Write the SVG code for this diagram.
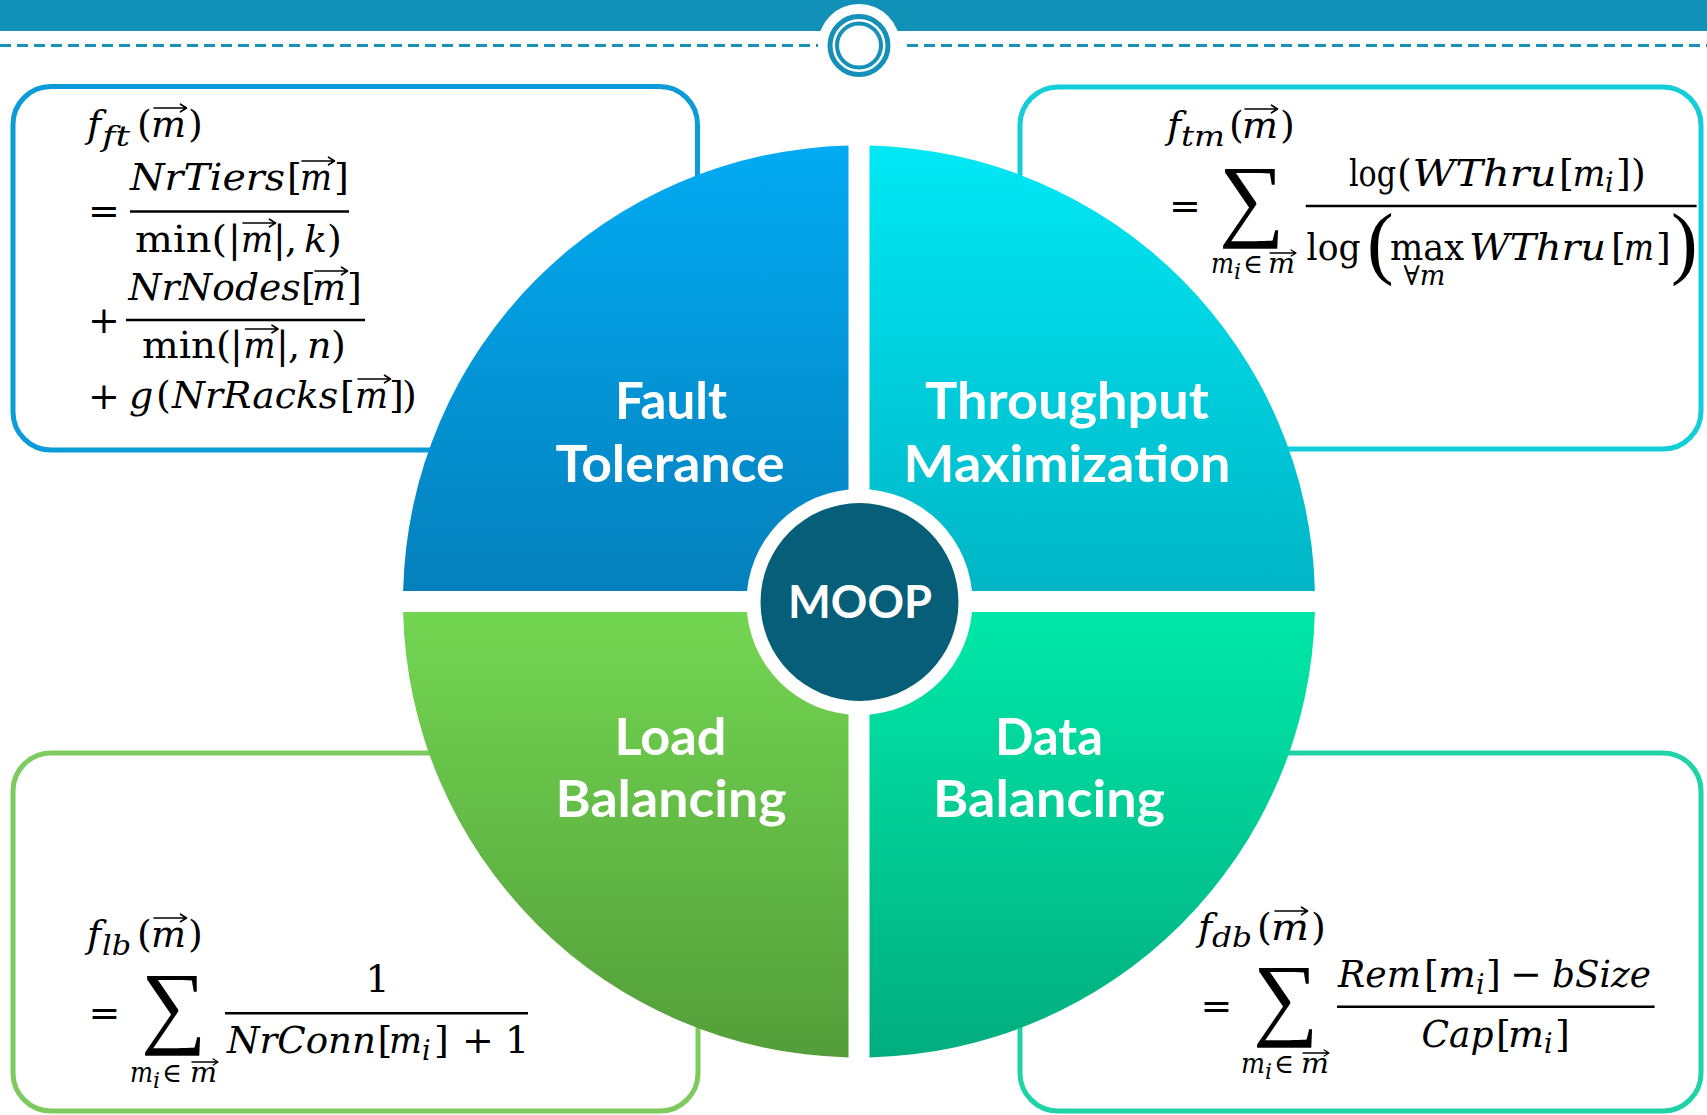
<svg xmlns="http://www.w3.org/2000/svg" xmlns:xlink="http://www.w3.org/1999/xlink" width="1707" height="1115" viewBox="0 0 1707 1115">
  <defs>
    <style>
      .box { fill: #ffffff; stroke-width: 5; }
      .mx { font-family: "DejaVu Serif", "Liberation Serif", serif; font-size: 38px; fill: #000; }
      .it { font-style: italic; }
      .sc { font-size: 27px; }
      .ssc { font-size: 22px; }
      .sig { font-family: "Liberation Serif", "DejaVu Serif", serif; font-size: 92px; fill: #000; }
      .big { font-family: "Liberation Serif", "DejaVu Serif", serif; font-size: 80px; }
      .bar { stroke: #000; stroke-width: 2.6; }
      .lbl { font-family: Lato, "Open Sans", sans-serif; font-weight: 700; font-size: 52px; fill: #fff; text-anchor: middle; }
      .hub { font-family: Lato, "Open Sans", sans-serif; font-weight: 700; font-size: 45px; fill: #fff; text-anchor: middle; }
      .ring { fill: none; stroke: #1590b8; }
    </style>
    <!-- vector accent placed over the m of m-vector -->
    <path id="vec" d="M0 0H32M26.5 -3.8L32.5 0L26.5 3.8" fill="none" stroke="#000" stroke-width="1.6" stroke-linecap="round" stroke-linejoin="round"/>
    <linearGradient id="gFT" gradientUnits="userSpaceOnUse" x1="0" y1="145" x2="0" y2="591">
      <stop offset="0" stop-color="#02abf3"/>
      <stop offset="1" stop-color="#0580bc"/>
    </linearGradient>
    <linearGradient id="gTM" gradientUnits="userSpaceOnUse" x1="0" y1="145" x2="0" y2="591">
      <stop offset="0" stop-color="#00e8f4"/>
      <stop offset="1" stop-color="#00b5c6"/>
    </linearGradient>
    <linearGradient id="gLB" gradientUnits="userSpaceOnUse" x1="0" y1="612" x2="0" y2="1057">
      <stop offset="0" stop-color="#73d652"/>
      <stop offset="1" stop-color="#539e39"/>
    </linearGradient>
    <linearGradient id="gDB" gradientUnits="userSpaceOnUse" x1="0" y1="612" x2="0" y2="1057">
      <stop offset="0" stop-color="#00e8a8"/>
      <stop offset="1" stop-color="#02ad7f"/>
    </linearGradient>
  </defs>

  <rect width="1707" height="1115" fill="#ffffff"/>

  <!-- header band with dashed rule and round emblem -->
  <g id="header">
    <rect x="0" y="0" width="1707" height="31" fill="#1190b8"/>
    <line x1="0" y1="45.5" x2="818" y2="45.5" stroke="#1892b9" stroke-width="3.2" stroke-dasharray="11 6"/>
    <line x1="907" y1="45.5" x2="1707" y2="45.5" stroke="#1892b9" stroke-width="3.2" stroke-dasharray="11 6"/>
    <circle cx="859" cy="45" r="41" fill="#ffffff"/>
    <circle class="ring" cx="859" cy="45.5" r="29" stroke-width="5"/>
    <circle class="ring" cx="859" cy="45.5" r="22" stroke-width="4"/>
  </g>

  <!-- objective boxes -->
  <g id="box-fault-tolerance">
    <rect class="box" x="13" y="86.5" width="684.5" height="363.5" rx="38" stroke="#0b9bd8"/>
    <text class="mx">
      <tspan x="87" y="137" class="it">f</tspan><tspan x="102" y="146" class="it sc" textLength="28" lengthAdjust="spacingAndGlyphs">ft</tspan><tspan x="137" y="137">(</tspan><tspan x="151" y="137" class="it" textLength="35" lengthAdjust="spacingAndGlyphs">m</tspan><tspan x="188" y="137">)</tspan>
    </text>
    <use href="#vec" x="154" y="108"/>
    <text class="mx" x="88" y="224">=</text>
    <line class="bar" x1="130" y1="211.5" x2="349" y2="211.5"/>
    <text class="mx">
      <tspan x="130" y="190" class="it" textLength="155" lengthAdjust="spacingAndGlyphs">NrTiers</tspan><tspan x="287" y="190">[</tspan><tspan x="300" y="190" class="it" textLength="32" lengthAdjust="spacingAndGlyphs">m</tspan><tspan x="334" y="190">]</tspan>
    </text>
    <use href="#vec" x="302" y="161"/>
    <text class="mx">
      <tspan x="135" y="252" textLength="92" lengthAdjust="spacingAndGlyphs">min(</tspan><tspan x="228" y="252">|</tspan><tspan x="241" y="252" class="it" textLength="32" lengthAdjust="spacingAndGlyphs">m</tspan><tspan x="273" y="252">|</tspan><tspan x="285" y="252">,</tspan><tspan x="304" y="252" class="it">k</tspan><tspan x="327" y="252">)</tspan>
    </text>
    <use href="#vec" x="243" y="223"/>
    <text class="mx" x="88" y="333">+</text>
    <line class="bar" x1="126" y1="320" x2="365" y2="320"/>
    <text class="mx">
      <tspan x="128.5" y="300" class="it" textLength="172" lengthAdjust="spacingAndGlyphs">NrNodes</tspan><tspan x="301" y="300">[</tspan><tspan x="312" y="300" class="it" textLength="34" lengthAdjust="spacingAndGlyphs">m</tspan><tspan x="347" y="300">]</tspan>
    </text>
    <use href="#vec" x="315" y="271"/>
    <text class="mx">
      <tspan x="142" y="358" textLength="89" lengthAdjust="spacingAndGlyphs">min(</tspan><tspan x="230" y="358">|</tspan><tspan x="243.5" y="358" class="it" textLength="32" lengthAdjust="spacingAndGlyphs">m</tspan><tspan x="276" y="358">|</tspan><tspan x="288" y="358">,</tspan><tspan x="307" y="358" class="it">n</tspan><tspan x="331" y="358">)</tspan>
    </text>
    <use href="#vec" x="245.5" y="329"/>
    <text class="mx">
      <tspan x="88" y="409">+</tspan><tspan x="129" y="408" class="it">g</tspan><tspan x="156" y="408">(</tspan><tspan x="172" y="408" class="it" textLength="166" lengthAdjust="spacingAndGlyphs">NrRacks</tspan><tspan x="340" y="408">[</tspan><tspan x="355" y="408" class="it" textLength="33" lengthAdjust="spacingAndGlyphs">m</tspan><tspan x="389" y="408">]</tspan><tspan x="402" y="408">)</tspan>
    </text>
    <use href="#vec" x="358" y="379"/>
  </g>

  <g id="box-throughput-maximization">
    <rect class="box" x="1020" y="87" width="681" height="362" rx="38" stroke="#13cdd8"/>
    <text class="mx">
      <tspan x="1167" y="138" class="it">f</tspan><tspan x="1181" y="146" class="it sc" textLength="44" lengthAdjust="spacingAndGlyphs">tm</tspan><tspan x="1229" y="138">(</tspan><tspan x="1242" y="138" class="it" textLength="36" lengthAdjust="spacingAndGlyphs">m</tspan><tspan x="1280" y="138">)</tspan>
    </text>
    <use href="#vec" x="1245" y="109"/>
    <text class="mx" x="1169" y="219">=</text>
    <text class="sig" x="1219" y="229">∑</text>
    <text class="mx sc">
      <tspan x="1211" y="273" class="it" textLength="23" lengthAdjust="spacingAndGlyphs">m</tspan><tspan x="1234" y="279" class="it ssc">i</tspan><tspan x="1243" y="273">∈</tspan><tspan x="1268" y="273" class="it" textLength="27" lengthAdjust="spacingAndGlyphs">m</tspan>
    </text>
    <use href="#vec" transform="translate(1270 253) scale(0.8)"/>
    <line class="bar" x1="1305.7" y1="206" x2="1696.6" y2="206"/>
    <text class="mx">
      <tspan x="1349" y="186" textLength="47" lengthAdjust="spacingAndGlyphs">log</tspan><tspan x="1397" y="186">(</tspan><tspan x="1412.5" y="186" class="it" textLength="144" lengthAdjust="spacingAndGlyphs">WThru</tspan><tspan x="1559" y="186">[</tspan><tspan x="1572.5" y="186" class="it" textLength="33" lengthAdjust="spacingAndGlyphs">m</tspan><tspan x="1605" y="192" class="it sc">i</tspan><tspan x="1616" y="186">]</tspan><tspan x="1631" y="186">)</tspan>
    </text>
    <text class="mx">
      <tspan x="1306.6" y="260" textLength="54" lengthAdjust="spacingAndGlyphs">log</tspan><tspan x="1367" y="269" class="big">(</tspan><tspan x="1390" y="260" textLength="74" lengthAdjust="spacingAndGlyphs">max</tspan><tspan x="1469" y="260" class="it" textLength="137" lengthAdjust="spacingAndGlyphs">WThru</tspan><tspan x="1611" y="260">[</tspan><tspan x="1624" y="260" class="it" textLength="30" lengthAdjust="spacingAndGlyphs">m</tspan><tspan x="1656" y="260">]</tspan><tspan x="1671" y="269" class="big">)</tspan>
    </text>
    <text class="mx sc">
      <tspan x="1403.5" y="285">∀</tspan><tspan class="it">m</tspan>
    </text>
  </g>

  <g id="box-load-balancing">
    <rect class="box" x="13" y="753" width="685" height="358" rx="38" stroke="#7dcb5f"/>
    <text class="mx">
      <tspan x="87" y="947" class="it">f</tspan><tspan x="102" y="955" class="it sc" textLength="29" lengthAdjust="spacingAndGlyphs">lb</tspan><tspan x="137" y="947">(</tspan><tspan x="151" y="947" class="it" textLength="35" lengthAdjust="spacingAndGlyphs">m</tspan><tspan x="188" y="947">)</tspan>
    </text>
    <use href="#vec" x="154" y="918"/>
    <text class="mx" x="88.6" y="1026">=</text>
    <text class="sig" x="141" y="1036">∑</text>
    <text class="mx sc">
      <tspan x="130" y="1082" class="it" textLength="23" lengthAdjust="spacingAndGlyphs">m</tspan><tspan x="153" y="1088" class="it ssc">i</tspan><tspan x="162" y="1082">∈</tspan><tspan x="190" y="1082" class="it" textLength="27" lengthAdjust="spacingAndGlyphs">m</tspan>
    </text>
    <use href="#vec" transform="translate(192 1062) scale(0.8)"/>
    <line class="bar" x1="225" y1="1013.3" x2="528" y2="1013.3"/>
    <text class="mx" x="377.6" y="992" text-anchor="middle">1</text>
    <text class="mx">
      <tspan x="227" y="1053" class="it" textLength="149" lengthAdjust="spacingAndGlyphs">NrConn</tspan><tspan x="377.5" y="1053">[</tspan><tspan x="389" y="1053" class="it" textLength="33" lengthAdjust="spacingAndGlyphs">m</tspan><tspan x="422" y="1060" class="it sc">i</tspan><tspan x="434" y="1053">]</tspan><tspan x="462" y="1053">+</tspan><tspan x="505" y="1053">1</tspan>
    </text>
  </g>

  <g id="box-data-balancing">
    <rect class="box" x="1020" y="753" width="681" height="358" rx="38" stroke="#20d3a6"/>
    <text class="mx">
      <tspan x="1198" y="940" class="it">f</tspan><tspan x="1212" y="947" class="it sc" textLength="40" lengthAdjust="spacingAndGlyphs">db</tspan><tspan x="1257" y="940">(</tspan><tspan x="1271" y="940" class="it" textLength="38" lengthAdjust="spacingAndGlyphs">m</tspan><tspan x="1311" y="940">)</tspan>
    </text>
    <use href="#vec" x="1275" y="911"/>
    <text class="mx" x="1200.6" y="1019">=</text>
    <text class="sig" x="1253" y="1028">∑</text>
    <text class="mx sc">
      <tspan x="1241" y="1073" class="it" textLength="24" lengthAdjust="spacingAndGlyphs">m</tspan><tspan x="1265" y="1079" class="it ssc">i</tspan><tspan x="1274" y="1073">∈</tspan><tspan x="1301" y="1073" class="it" textLength="28" lengthAdjust="spacingAndGlyphs">m</tspan>
    </text>
    <use href="#vec" transform="translate(1303 1053) scale(0.8)"/>
    <line class="bar" x1="1337" y1="1006.7" x2="1654.6" y2="1006.7"/>
    <text class="mx">
      <tspan x="1338" y="986.7" class="it" textLength="83" lengthAdjust="spacingAndGlyphs">Rem</tspan><tspan x="1424" y="986.7">[</tspan><tspan x="1438" y="986.7" class="it" textLength="38" lengthAdjust="spacingAndGlyphs">m</tspan><tspan x="1476" y="994" class="it sc">i</tspan><tspan x="1486" y="986.7">]</tspan><tspan x="1510" y="986.7">−</tspan><tspan x="1552" y="986.7" class="it" textLength="99" lengthAdjust="spacingAndGlyphs">bSize</tspan>
    </text>
    <text class="mx">
      <tspan x="1421.6" y="1046.7" class="it" textLength="72" lengthAdjust="spacingAndGlyphs">Cap</tspan><tspan x="1496" y="1046.7">[</tspan><tspan x="1508" y="1046.7" class="it" textLength="36" lengthAdjust="spacingAndGlyphs">m</tspan><tspan x="1544" y="1053" class="it sc">i</tspan><tspan x="1555" y="1046.7">]</tspan>
    </text>
  </g>

  <!-- four objective quadrants of the wheel -->
  <g id="quadrant-fault-tolerance">
    <path d="M848.5 591H403.12A456 456 0 0 1 848.5 145.62Z" fill="url(#gFT)"/>
    <text class="lbl" x="671" y="419" textLength="112" lengthAdjust="spacingAndGlyphs">Fault</text>
    <text class="lbl" x="670" y="482" textLength="229" lengthAdjust="spacingAndGlyphs">Tolerance</text>
  </g>
  <g id="quadrant-throughput-maximization">
    <path d="M869.5 591V145.62A456 456 0 0 1 1314.88 591Z" fill="url(#gTM)"/>
    <text class="lbl" x="1067" y="419" textLength="284" lengthAdjust="spacingAndGlyphs">Throughput</text>
    <text class="lbl" x="1067" y="482" textLength="327" lengthAdjust="spacingAndGlyphs">Maximization</text>
  </g>
  <g id="quadrant-load-balancing">
    <path d="M848.5 612V1057.38A456 456 0 0 1 403.12 612Z" fill="url(#gLB)"/>
    <text class="lbl" x="670.5" y="755" textLength="112" lengthAdjust="spacingAndGlyphs">Load</text>
    <text class="lbl" x="671" y="816.5" textLength="231" lengthAdjust="spacingAndGlyphs">Balancing</text>
  </g>
  <g id="quadrant-data-balancing">
    <path d="M869.5 612H1314.88A456 456 0 0 1 869.5 1057.38Z" fill="url(#gDB)"/>
    <text class="lbl" x="1049" y="755" textLength="108" lengthAdjust="spacingAndGlyphs">Data</text>
    <text class="lbl" x="1049" y="816.5" textLength="232" lengthAdjust="spacingAndGlyphs">Balancing</text>
  </g>

  <!-- central hub -->
  <g id="hub-moop">
    <circle cx="859.5" cy="602" r="113" fill="#ffffff"/>
    <circle cx="859.5" cy="602" r="99" fill="#065e78"/>
    <text class="hub" x="860" y="618" textLength="144" lengthAdjust="spacingAndGlyphs">MOOP</text>
  </g>
</svg>
